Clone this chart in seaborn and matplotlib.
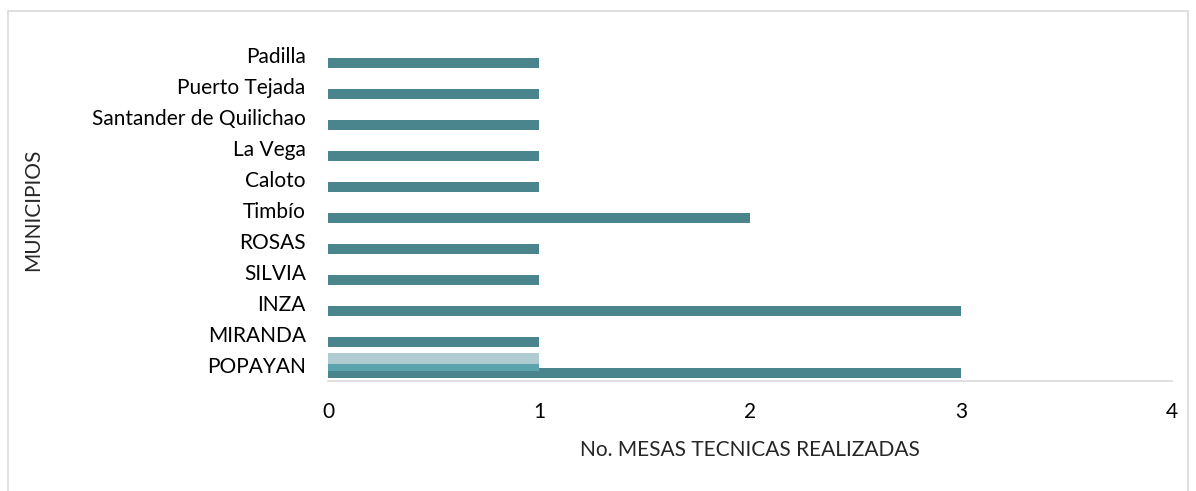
import numpy as np
import pandas as pd
import matplotlib.pyplot as plt
import seaborn as sns
from matplotlib.patches import Rectangle

# datos
municipios = ['Padilla', 'Puerto Tejada', 'Santander de Quilichao', 'La Vega', 'Caloto',
              'Timbío', 'ROSAS', 'SILVIA', 'INZA', 'MIRANDA', 'POPAYAN']
mesas_serie1 = [1, 1, 1, 1, 1, 2, 1, 1, 3, 1, 3]
# series extra que solo tienen valor en POPAYAN
mesas_serie2 = [0, 0, 0, 0, 0, 0, 0, 0, 0, 0, 1]
mesas_serie3 = [0, 0, 0, 0, 0, 0, 0, 0, 0, 0, 1]

c_oscuro = '#4a848c'
c_medio = '#5ba3ad'
c_claro = '#b0cbd1'

sns.set_style('white')
plt.rcParams['font.family'] = ['Lato', 'DejaVu Sans']

fig = plt.figure(figsize=(11.96, 4.91), dpi=100)
ax = fig.add_axes([0.2742, 0.224, 0.7057, 0.6955])

df = pd.DataFrame({'municipio': municipios, 'mesas': mesas_serie1})
sns.barplot(data=df, y='municipio', x='mesas', orient='h', color=c_oscuro,
            saturation=1, width=0.34, linewidth=0, ax=ax, zorder=2)
# barras de la serie 1 van abajo del grupo
for p in ax.patches:
    p.set_y(p.get_y() + 0.26)

pos = np.arange(len(municipios))
for vals, off, col, z in [(mesas_serie2, 0.03, c_medio, 3), (mesas_serie3, -0.21, c_claro, 4)]:
    v = np.array(vals, dtype=float)
    m = v > 0
    ax.barh(pos[m] + off, v[m], height=0.34, color=col, linewidth=0, zorder=z)

ax.set_xlim(0, 4)
ax.set_ylim(10.52, -0.5)
ax.set_xticks([0, 1, 2, 3, 4])
ax.tick_params(axis='x', length=0, pad=15, labelsize=15, labelcolor='#000000')
ax.tick_params(axis='y', length=0, pad=16, labelsize=15, labelcolor='#000000')
for s in ['top', 'right', 'left']:
    ax.spines[s].set_visible(False)
ax.spines['bottom'].set_color('#d9d9d9')
ax.spines['bottom'].set_linewidth(1.2)
ax.set_xlabel('No. MESAS TECNICAS REALIZADAS', fontsize=15, labelpad=13)
ax.set_ylabel('MUNICIPIOS', fontsize=15, labelpad=0, va='center')
ax.yaxis.set_label_coords(-0.3495, 0.5)

# marco exterior del grafico
fig.patches.append(Rectangle((8 / 1196, -0.05), 1180 / 1196, 1 - 11 / 491 + 0.05,
                             transform=fig.transFigure, fill=False,
                             edgecolor='#d9d9d9', linewidth=1.2))

plt.savefig('out.png', dpi=100)
plt.close()
